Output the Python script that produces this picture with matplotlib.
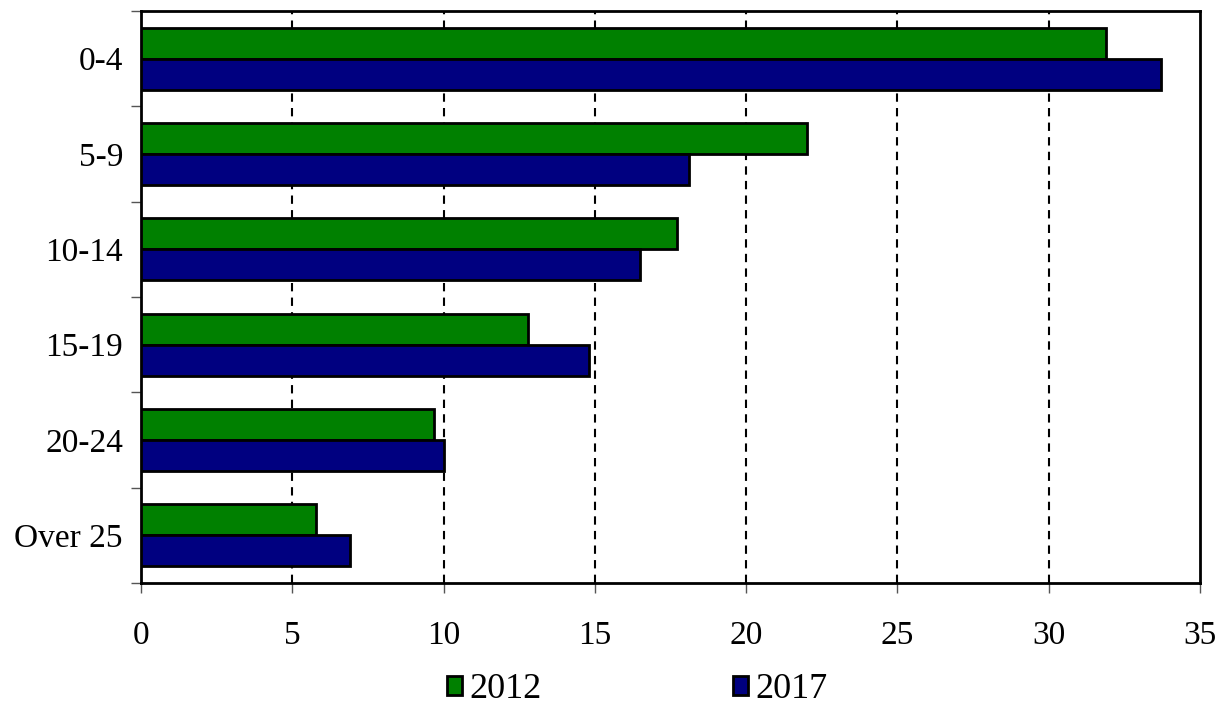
import matplotlib
matplotlib.use("Agg")
import matplotlib.pyplot as plt
from matplotlib.ticker import FixedLocator
import numpy as np

categories = ["0-4", "5-9", "10-14", "15-19", "20-24", "Over 25"]
values_2012 = [31.9, 22.0, 17.7, 12.8, 9.7, 5.8]
values_2017 = [33.7, 18.1, 16.5, 14.8, 10.0, 6.9]
series_labels = ["2012", "2017"]
x_ticks = [0, 5, 10, 15, 20, 25, 30, 35]

plt.rcParams['font.family'] = ['Liberation Serif', 'DejaVu Serif']

fig = plt.figure(figsize=(12.28, 7.09), dpi=100)
ax = fig.add_axes([0.1148, 0.1777, 0.8624, 0.8068])

y = np.arange(len(categories))
h = 0.325
ax.barh(y - h/2, values_2012, height=h, color="#008000", edgecolor="black", linewidth=2, label=series_labels[0], zorder=3)
ax.barh(y + h/2, values_2017, height=h, color="#000080", edgecolor="black", linewidth=2, label=series_labels[1], zorder=3)

ax.set_xlim(0, 35)
ax.set_ylim(len(categories) - 0.5, -0.5)
ax.set_xticks(x_ticks)
ax.set_xticklabels([str(t) for t in x_ticks])
ax.set_yticks(y)
ax.set_yticklabels(categories)
ax.tick_params(axis='y', which='major', length=0, pad=13, labelsize=24)
ax.yaxis.set_minor_locator(FixedLocator(np.arange(-0.5, len(categories), 1.0)))
ax.tick_params(axis='y', which='minor', length=7, width=1, direction='out', color='#555555')
ax.tick_params(axis='x', which='major', length=7, width=1, direction='out', pad=20, color='#555555', labelsize=24)

for xv in x_ticks[1:-1]:
    ax.axvline(xv, color='black', linestyle=(0, (4, 3)), linewidth=1.5, zorder=1)

for s in ax.spines.values():
    s.set_linewidth(2)
    s.set_color('black')

leg = fig.legend(loc='center', bbox_to_anchor=(0.519, 0.027), ncol=2, frameon=False,
                 fontsize=26, handlelength=0.42, handleheight=0.42, handletextpad=0.2,
                 columnspacing=5.3)

fig.savefig("out.png", dpi=100)
